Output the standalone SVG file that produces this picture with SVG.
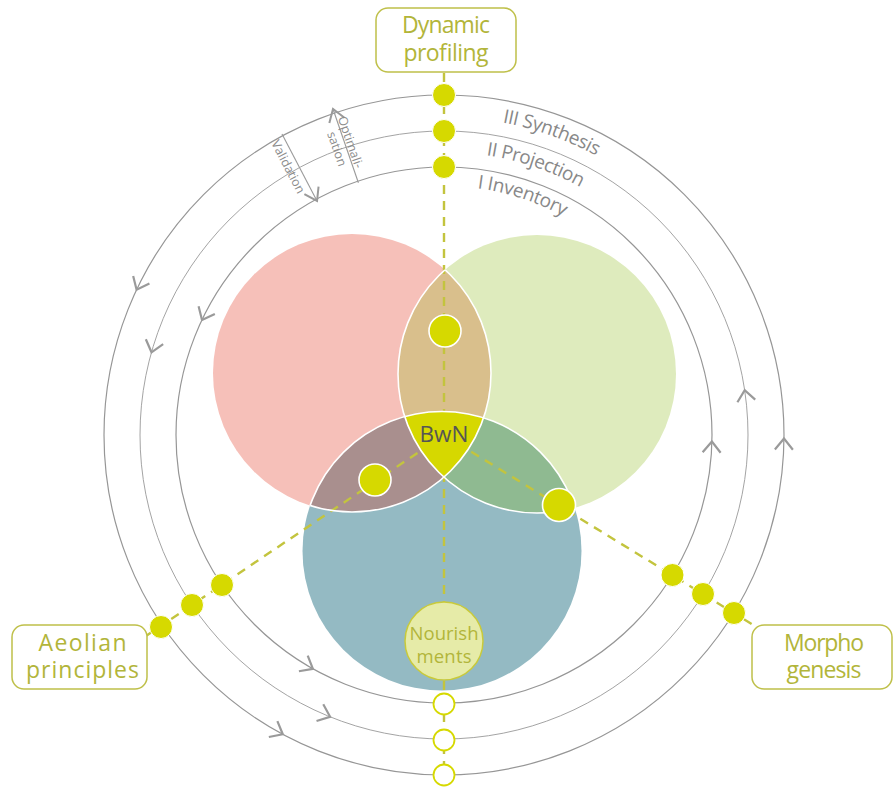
<svg xmlns="http://www.w3.org/2000/svg" xmlns:xlink="http://www.w3.org/1999/xlink" width="893" height="788" viewBox="0 0 893 788">
<style>
.ring{fill:none;stroke:#969696;stroke-width:1.2}
.chev{fill:none;stroke:#9a9a9a;stroke-width:2.2;stroke-linecap:butt}
.dash{fill:none;stroke:#c3c43e;stroke-width:2.4;stroke-dasharray:9 7}
.dot{fill:#d6d900;stroke:#fff;stroke-width:1}
.vdot{fill:#d6d900;stroke:#fff;stroke-width:1.6}
.hol{fill:#fff;stroke:#d6d900;stroke-width:1.8}
.box{fill:#fff;stroke:#bfc04a;stroke-width:1.5}
.bt{font-family:"Open Sans","Noto Sans",sans-serif;font-size:23px;fill:#b2b53a;text-anchor:middle}
.rl{font-family:"Open Sans","Noto Sans",sans-serif;font-size:19px;fill:#888}
.sm{font-family:"Open Sans","Noto Sans",sans-serif;font-size:12.5px;fill:#8c8c8c;text-anchor:middle}
.wl{fill:none;stroke:#fff;stroke-width:1.6}
</style>
<defs>
<circle id="cp" cx="352" cy="373" r="139"/>
<circle id="cg" cx="537" cy="374" r="139"/>
<circle id="cb" cx="442" cy="551" r="139.5"/>
<clipPath id="clipP"><use href="#cp"/></clipPath>
<clipPath id="clipG"><use href="#cg"/></clipPath>
<clipPath id="clipB"><use href="#cb"/></clipPath>
<clipPath id="clipGB"><use href="#cg"/><use href="#cb"/></clipPath>
<clipPath id="clipPB"><use href="#cp"/><use href="#cb"/></clipPath>
<clipPath id="clipPG"><use href="#cp"/><use href="#cg"/></clipPath>
<polyline id="chev" class="chev" points="-11,-9 0,0 -11,9"/>
<path id="arc3" d="M502.5,122.4 A318,318 0 0,1 719.4,276"/>
<path id="arc2" d="M486.3,155.2 A283,283 0 0,1 689.1,293.5"/>
<path id="arc1" d="M477.4,188.2 A249,249 0 0,1 659.6,310.5"/>
</defs>

<g id="rings">
<circle class="ring" cx="444" cy="435" r="340"/>
<circle class="ring" cx="444" cy="435" r="304" style="stroke:#a4a4a4;stroke-width:1"/>
<circle class="ring" cx="444" cy="435" r="268"/>
<use href="#chev" transform="translate(136.6,289.7) rotate(115.3)"/>
<use href="#chev" transform="translate(151.5,352.3) rotate(105.8)"/>
<use href="#chev" transform="translate(202,320) rotate(115.4)"/>
<use href="#chev" transform="translate(312.9,668.8) rotate(29.3)"/>
<use href="#chev" transform="translate(330.1,716.8) rotate(22)"/>
<use href="#chev" transform="translate(282.8,734.3) rotate(28.3)"/>
<use href="#chev" transform="translate(711.9,441.5) rotate(-88.6)"/>
<use href="#chev" transform="translate(744.7,390.1) rotate(-98.5)"/>
<use href="#chev" transform="translate(784,438.6) rotate(-89.4)"/>
<text class="rl"><textPath href="#arc3" textLength="100">III Synthesis</textPath></text>
<text class="rl"><textPath href="#arc2" textLength="100">II Projection</textPath></text>
<text class="rl"><textPath href="#arc1" textLength="91">I Inventory</textPath></text>
</g>

<g id="optimalisation" transform="translate(333,109) rotate(71)">
<line x1="0" y1="0" x2="78" y2="0" stroke="#9a9a9a" stroke-width="1.1"/>
<polyline class="chev" points="12,-8 0,0 12,8" style="stroke-width:2"/>
<text class="sm" x="37" y="-1.5">Optimali-</text>
<text class="sm" x="39" y="13.5">sation</text>
</g>
<g id="validation" transform="translate(282,134) rotate(62.4)">
<line x1="0" y1="0" x2="75.6" y2="0" stroke="#9a9a9a" stroke-width="1.1"/>
<polyline class="chev" points="63.6,-8 75.6,0 63.6,8" style="stroke-width:2"/>
<text class="sm" x="32" y="14">Validation</text>
</g>

<g id="venn">
<use href="#cp" fill="#f6c0b9"/>
<use href="#cg" fill="#deebbd"/>
<use href="#cb" fill="#94bac3"/>
<g clip-path="url(#clipP)"><use href="#cg" fill="#d9bf8c"/></g>
<g clip-path="url(#clipP)"><use href="#cb" fill="#a98f8e"/></g>
<g clip-path="url(#clipG)"><use href="#cb" fill="#8fba91"/></g>
</g>

<g id="connectors">
<line class="dash" x1="444" y1="73" x2="444" y2="775"/>
<line class="dash" x1="444" y1="435" x2="146" y2="636"/>
<line class="dash" x1="444" y1="435" x2="755" y2="626"/>
</g>

<g id="bwn">
<g clip-path="url(#clipP)"><g clip-path="url(#clipG)"><use href="#cb" fill="#d6d800"/></g></g>
<g clip-path="url(#clipGB)"><use href="#cp" class="wl"/></g>
<g clip-path="url(#clipPB)"><use href="#cg" class="wl"/></g>
<g clip-path="url(#clipPG)"><use href="#cb" class="wl"/></g>
<text x="444" y="442" font-family="'Open Sans','Noto Sans',sans-serif" font-size="22.5" fill="#555" text-anchor="middle">BwN</text>
</g>

<g id="venn-dots">
<circle class="vdot" cx="445" cy="331" r="16"/>
<circle class="vdot" cx="375" cy="480" r="16"/>
<circle class="vdot" cx="559" cy="505" r="16.5"/>
</g>

<g id="ring-dots">
<circle class="dot" cx="444" cy="95" r="11.5"/>
<circle class="dot" cx="444" cy="131" r="11.5"/>
<circle class="dot" cx="444" cy="167" r="11.5"/>
<circle class="dot" cx="222" cy="585" r="11.5"/>
<circle class="dot" cx="192" cy="605" r="11.5"/>
<circle class="dot" cx="161" cy="627" r="11.5"/>
<circle class="dot" cx="672.5" cy="575" r="11.5"/>
<circle class="dot" cx="703" cy="594" r="11.5"/>
<circle class="dot" cx="734" cy="613" r="11.5"/>
<circle class="hol" cx="444" cy="704" r="10.5"/>
<circle class="hol" cx="444" cy="740" r="10.5"/>
<circle class="hol" cx="444" cy="775" r="10.5"/>
</g>

<g id="nourishments">
<circle cx="444" cy="641" r="39" fill="#e6eba8" stroke="#c9ca3a" stroke-width="1.5"/>
<text class="bt" x="444" y="640" style="font-size:18.5px" textLength="69">Nourish</text>
<text class="bt" x="444" y="663" style="font-size:18.5px" textLength="55">ments</text>
</g>

<g id="dynamic-profiling">
<rect class="box" x="376" y="8" width="140" height="64" rx="12"/>
<text class="bt" x="446" y="33" textLength="88">Dynamic</text>
<text class="bt" x="446" y="61" textLength="85">profiling</text>
</g>

<g id="aeolian-principles">
<rect class="box" x="12" y="625" width="135" height="64" rx="12"/>
<text class="bt" x="82.5" y="651" textLength="88">Aeolian</text>
<text class="bt" x="82.5" y="678" textLength="113">principles</text>
</g>

<g id="morphogenesis">
<rect class="box" x="752" y="625" width="140" height="64" rx="12"/>
<text class="bt" x="824" y="651" textLength="80">Morpho</text>
<text class="bt" x="824" y="678" textLength="75">genesis</text>
</g>
</svg>
